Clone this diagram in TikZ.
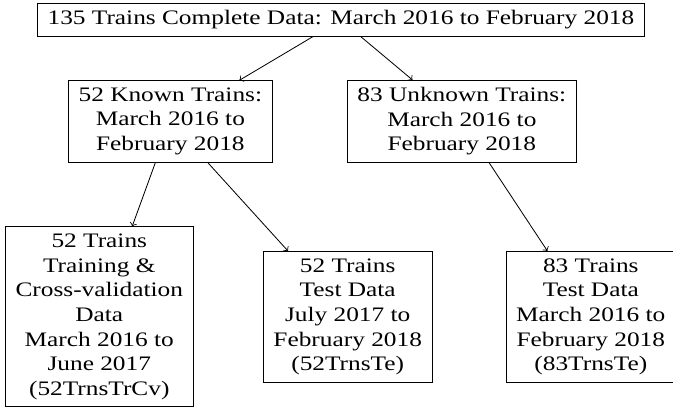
\documentclass[tikz,border=0pt]{standalone}
\usepackage{fontspec}
\setmainfont{Liberation Serif}[FakeStretch=1.23]
\usetikzlibrary{arrows,positioning}
\tikzstyle{dataset}=[
	rectangle,
	draw,
	align=center,
	inner xsep=5pt,
	on grid
]
\tikzstyle{split}=[
	<-,
	>=to
]

\begin{document}
\begin{tikzpicture}
\useasboundingbox (-165.5pt,-188.8pt) rectangle (161.2pt,9.7pt);
\node [dataset] (Complete) {135 Trains Complete Data: March 2016 to February 2018};
\node [dataset] (Known)[below left=49.2pt and 82.8pt of Complete] {52 Known Trains:\\March 2016 to\\February 2018}
	edge [split] (Complete);
\node [dataset] (Unknown)[below right=49.2pt and 58.7pt of Complete] {83 Unknown Trains:\\March 2016 to\\February 2018}
	edge [split] (Complete);
\node [dataset] (TrainCv)[below left=94.9pt and 34.5pt of Known] {52 Trains\\Training \&\\Cross-validation\\Data\\March 2016 to\\June 2017\\(52TrnsTrCv)}
	edge [split] (Known);
\node [dataset] (TestKnown)[below right=94.9pt and 86.1pt of Known] {52 Trains\\Test Data\\July 2017 to\\February 2018\\(52TrnsTe)}
	edge [split] (Known);
\node [dataset] (TestUnknown)[below right=94.9pt and 62.6pt of Unknown] {83 Trains\\Test Data\\March 2016 to\\February 2018\\(83TrnsTe)}
	edge [split] (Unknown);
\end{tikzpicture}
\end{document}
